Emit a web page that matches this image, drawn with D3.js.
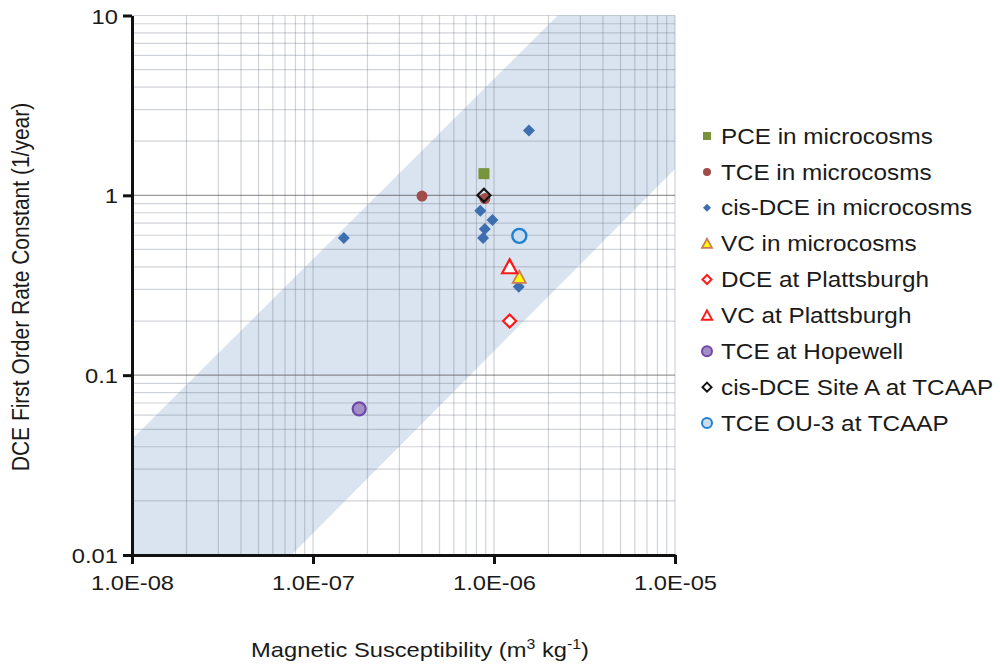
<!DOCTYPE html>
<html>
<head>
<meta charset="utf-8">
<script src="https://cdn.jsdelivr.net/npm/d3@7"></script>
<style>
  body { margin: 0; background: #fff; }
  svg text { font-family: "Liberation Sans", Arial, sans-serif; fill: #1a1a1a; }
</style>
</head>
<body>
<svg id="chart" width="1000" height="670"></svg>
<script>
// ---------- data ----------
const xTickValues = [1e-8, 1e-7, 1e-6, 1e-5];
const xTickLabels = ["1.0E-08", "1.0E-07", "1.0E-06", "1.0E-05"];
const yTickValues = [0.01, 0.1, 1, 10];
const yTickLabels = ["0.01", "0.1", "1", "10"];

const seriesNames = [
  "PCE in microcosms", "TCE in microcosms", "cis-DCE in microcosms",
  "VC in microcosms", "DCE at Plattsburgh", "VC at Plattsburgh",
  "TCE at Hopewell", "cis-DCE Site A at TCAAP", "TCE OU-3 at TCAAP"
];
const pcePoints = [[8.8e-7, 1.32]];
const tceMicroPoints = [[4.0e-7, 0.99], [8.9e-7, 0.96]];
const cisDcePoints = [[1.48e-7, 0.58], [8.4e-7, 0.82], [9.8e-7, 0.73], [8.9e-7, 0.65],
                      [8.7e-7, 0.58], [1.37e-6, 0.31], [1.56e-6, 2.29]];
const vcMicroPoints = [[1.38e-6, 0.35]];
const dcePlattPoints = [[1.22e-6, 0.20]];
const vcPlattPoints = [[1.22e-6, 0.40]];
const hopewellPoints = [[1.8e-7, 0.065]];
const siteAPoints = [[8.8e-7, 1.0]];
const ou3Points = [[1.38e-6, 0.595]];

// shaded band (upper edge from k = 0.044 at 1e-8 up to 10; lower edge from k = 0.01 at 7.6e-8 up to 1.4 at 1e-5)
const bandPolygon = [[1e-8, 0.044], [2.25e-6, 10], [1e-5, 10], [1e-5, 1.4], [7.6e-8, 0.01], [1e-8, 0.01]];

// ---------- layout ----------
const SX = 1.13; // horizontal text stretch of the original
const svg = d3.select("#chart");
const x = d3.scaleLog().domain([1e-8, 1e-5]).range([132, 675]);
const y = d3.scaleLog().domain([0.01, 10]).range([555, 15.5]);

// band
svg.append("path")
  .attr("d", d3.line().x(d => x(d[0])).y(d => y(d[1]))(bandPolygon) + "Z")
  .attr("fill", "#dae3f0");

// gridlines
const xGrid = [], yGrid = [];
for (let e = -8; e < -5; e++) for (let m = 1; m <= 9; m++) xGrid.push(m * Math.pow(10, e));
xGrid.push(1e-5);
for (let e = -2; e < 1; e++) for (let m = 1; m <= 9; m++) yGrid.push(m * Math.pow(10, e));
yGrid.push(10);

const minorColor = "rgba(100,110,125,0.30)";
const grid = svg.append("g");
grid.selectAll("line.vx").data(xGrid).join("line")
  .attr("x1", d => x(d)).attr("x2", d => x(d))
  .attr("y1", y(10)).attr("y2", y(0.01))
  .attr("stroke", minorColor).attr("stroke-width", 1.2);
grid.selectAll("line.hy").data(yGrid).join("line")
  .attr("x1", x(1e-8)).attr("x2", x(1e-5))
  .attr("y1", d => y(d)).attr("y2", d => y(d))
  .attr("stroke", d => {
    const l = Math.log10(d);
    return Math.abs(l - Math.round(l)) < 1e-9 && d < 10 && d > 0.01 ? "rgba(70,70,70,0.55)" : minorColor;
  })
  .attr("stroke-width", 1.2);

// axes
const xAxis = svg.append("g").attr("transform", `translate(0,${y(0.01)})`)
  .call(d3.axisBottom(x).tickValues(xTickValues).tickFormat((d, i) => xTickLabels[i]).tickSize(9).tickSizeOuter(0));
const yAxis = svg.append("g").attr("transform", `translate(${x(1e-8)},0)`)
  .call(d3.axisLeft(y).tickValues(yTickValues).tickFormat((d, i) => yTickLabels[i]).tickSize(9).tickSizeOuter(0));
[xAxis, yAxis].forEach(a => {
  a.select(".domain").attr("stroke", "#111").attr("stroke-width", 3);
  a.selectAll(".tick line").attr("stroke", "#111").attr("stroke-width", 3);
  a.selectAll(".tick text").attr("font-size", 21).attr("fill", "#1a1a1a")
    .style("font-family", "'Liberation Sans', Arial, sans-serif");
});
xAxis.selectAll(".tick text").attr("y", 20).attr("dy", "0.71em").attr("transform", `scale(${SX},1)`);
yAxis.selectAll(".tick text").attr("x", -14 / SX).attr("dy", "0.36em").attr("transform", `scale(${SX},1)`);

// axis titles
svg.append("text")
  .attr("transform", `translate(29,287) rotate(-90) scale(1,${SX})`)
  .attr("text-anchor", "middle").attr("font-size", 21)
  .text("DCE First Order Rate Constant (1/year)");
const xt = svg.append("text")
  .attr("transform", `translate(420,657) scale(${SX},1)`)
  .attr("text-anchor", "middle").attr("font-size", 21);
xt.append("tspan").text("Magnetic Susceptibility (m");
xt.append("tspan").attr("font-size", 14).attr("dy", -8).text("3");
xt.append("tspan").attr("dy", 8).text(" kg");
xt.append("tspan").attr("font-size", 14).attr("dy", -8).text("-1");
xt.append("tspan").attr("dy", 8).text(")");

// ---------- marker shapes ----------
function diamond(s) { const h = s / 2; return `M0,${-h}L${h},0L0,${h}L${-h},0Z`; }
function square(s) { const h = s / 2; return `M${-h},${-h}H${h}V${h}H${-h}Z`; }
function triangle(s) { const h = s / 2; return `M0,${-h}L${h},${h * 0.85}L${-h},${h * 0.85}Z`; }
function circle(s) { const r = s / 2; return `M${r},0A${r},${r} 0 1,1 ${-r},0A${r},${r} 0 1,1 ${r},0Z`; }

const styles = [
  { pts: pcePoints,     shape: square,   size: 11, lsize: 8,  fill: "#77933c", stroke: "none", sw: 0 },
  { pts: tceMicroPoints, shape: circle,  size: 11, lsize: 8,  fill: "#a04c4b", stroke: "none", sw: 0 },
  { pts: cisDcePoints,  shape: diamond,  size: 12, lsize: 8,  fill: "#3d6eb0", stroke: "none", sw: 0 },
  { pts: vcMicroPoints, shape: triangle, size: 13, lsize: 10, fill: "#ffff00", stroke: "#d07a55", sw: 1.8 },
  { pts: dcePlattPoints, shape: diamond, size: 13, lsize: 9,  fill: "#ffffff", stroke: "#ff1a1a", sw: 2.2 },
  { pts: vcPlattPoints, shape: triangle, size: 15, lsize: 10, fill: "#ffffff", stroke: "#ff1a1a", sw: 2.2 },
  { pts: hopewellPoints, shape: circle,  size: 13, lsize: 10, fill: "#a28fc6", stroke: "#7048a8", sw: 2.2 },
  { pts: siteAPoints,   shape: diamond,  size: 13, lsize: 9,  fill: "none",    stroke: "#111111", sw: 2.2 },
  { pts: ou3Points,     shape: circle,   size: 14, lsize: 10, fill: "#c9dcf0", stroke: "#1f80d0", sw: 2.4 }
];

const marks = svg.append("g");
styles.forEach(st => {
  marks.append("g").selectAll("path").data(st.pts).join("path")
    .attr("transform", d => `translate(${x(d[0])},${y(d[1])})`)
    .attr("d", st.shape(st.size))
    .attr("fill", st.fill).attr("stroke", st.stroke).attr("stroke-width", st.sw);
});

// ---------- legend ----------
const legendY = d3.scaleLinear().domain([0, 8]).range([136, 423]);
const leg = svg.append("g");
seriesNames.forEach((name, i) => {
  const st = styles[i];
  leg.append("path")
    .attr("transform", `translate(707,${legendY(i)})`)
    .attr("d", st.shape(st.lsize))
    .attr("fill", st.fill).attr("stroke", st.stroke).attr("stroke-width", st.sw ? Math.min(st.sw, 2) : 0);
  leg.append("text")
    .attr("transform", `translate(721,${legendY(i)}) scale(${SX},1)`)
    .attr("dy", "0.36em").attr("font-size", 21.5)
    .text(name);
});
</script>
</body>
</html>
